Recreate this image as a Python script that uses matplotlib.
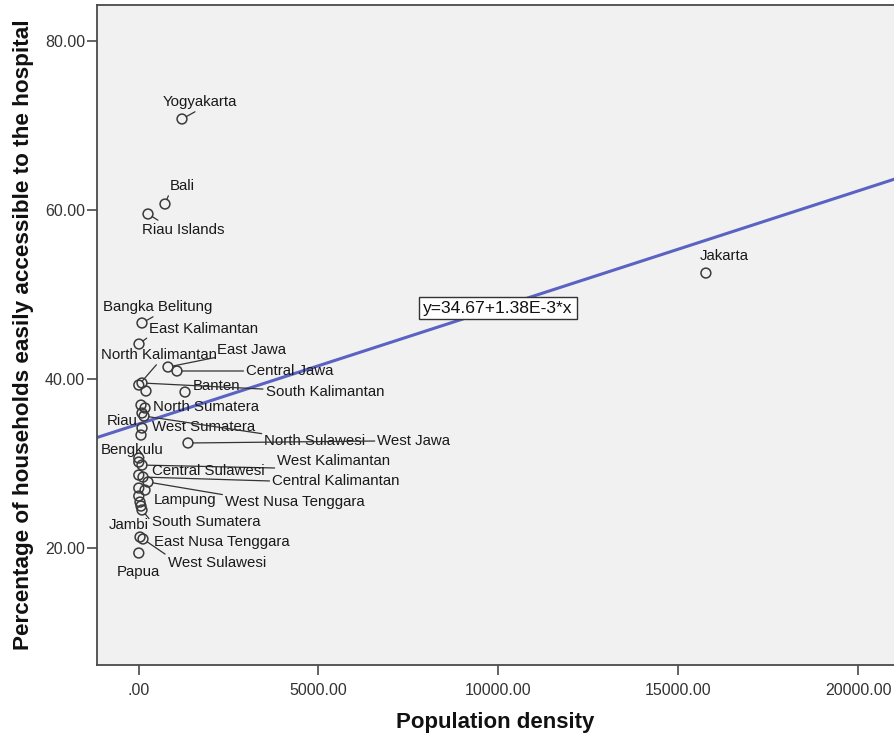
import numpy as np
import matplotlib
matplotlib.use("Agg")
import matplotlib.pyplot as plt

# ---------------- data ----------------
provinces = ["Yogyakarta", "Bali", "Riau Islands", "Jakarta", "Bangka Belitung",
             "East Kalimantan", "North Kalimantan", "East Jawa", "Central Jawa", "Banten",
             "South Kalimantan", "North Sumatera", "Riau", "West Sumatera", "North Sulawesi",
             "West Jawa", "Bengkulu", "West Kalimantan", "Central Sulawesi", "Central Kalimantan",
             "Lampung", "West Nusa Tenggara", "Jambi", "South Sumatera", "East Nusa Tenggara",
             "West Sulawesi", "Papua",
             "Aceh", "South Sulawesi", "Maluku", "Gorontalo", "North Maluku", "West Papua",
             "Southeast Sulawesi"]
density = [1208, 736, 264, 15764, 97,
           14, 8, 819, 1069, 1292,
           97, 181, 97, 97, 153,
           1375, 69, 97, 8, 125,
           181, 264, 69, 97, 42,
           125, 8,
           69, 208, 8, 8, 8, 8,
           42]
access = [70.77, 60.71, 59.53, 52.54, 46.63,
          44.14, 39.29, 41.42, 40.95, 38.46,
          39.53, 36.57, 35.98, 34.20, 35.62,
          32.43, 33.37, 29.82, 30.18, 28.40,
          26.86, 27.81, 24.97, 24.50, 21.30,
          21.07, 19.41,
          36.92, 38.58, 30.65, 28.64, 27.10, 26.15,
          25.44]
n_labeled = 27
intercept = 34.67
slope = 1.38e-3
xticks = [0, 5000, 10000, 15000, 20000]
yticks = [20, 40, 60, 80]

# ------------- label layout (pixel offsets from point, leader anchor) -------------
label_layout = {
    "Yogyakarta": (18, 17, (0.5, 0)),
    "Bali": (17, 18, (0, 0)),
    "Riau Islands": (35, -16, (0.25, 1)),
    "Jakarta": (18, 17, None),
    "Bangka Belitung": (16, 16, (0.5, 0)),
    "East Kalimantan": (65, 15, (0, 0)),
    "North Kalimantan": (20, 30, (0.5, 0)),
    "East Jawa": (84, 17, (0, 0)),
    "Central Jawa": (113, 0, (0, 0.5)),
    "Banten": (32, 6, None),
    "South Kalimantan": (183, -9, (0, 0.7)),
    "North Sumatera": (61, 1, None),
    "Riau": (-20, -8, None),
    "West Sumatera": (62, 1, None),
    "North Sulawesi": (171, -25, (0, 1)),
    "West Jawa": (226, 2, (0, 0.5)),
    "Bengkulu": (-9, -15, None),
    "West Kalimantan": (192, 4, (0, 0)),
    "Central Sulawesi": (70, -9, None),
    "Central Kalimantan": (193, -4, (0, 0.5)),
    "Lampung": (40, -10, None),
    "West Nusa Tenggara": (147, -20, (0, 1)),
    "Jambi": (-12, -19, None),
    "South Sumatera": (64, -12, (0, 0.5)),
    "East Nusa Tenggara": (82, -5, None),
    "West Sulawesi": (74, -24, (0, 1)),
    "Papua": (0, -19, None),
}

# ---------------- figure ----------------
W, H = 894, 739
fig = plt.figure(figsize=(W / 100, H / 100), dpi=100)
fig.patch.set_facecolor("white")
ax = fig.add_axes([97 / W, 1 - 665 / H, (894 - 97) / W, (665 - 5) / H])
ax.set_facecolor("#F0F1F0")

ax.set_xlim(-1153, 20990)
ax.set_ylim(6.16, 84.26)

frame_c = "#4a4a4a"
for side in ["left", "bottom", "top"]:
    ax.spines[side].set_color(frame_c)
    ax.spines[side].set_linewidth(1.3)
ax.spines["right"].set_visible(False)

# regression line
xl = np.array(ax.get_xlim())
ax.plot(xl, intercept + slope * xl, color="#5A62C2", lw=2.2, zorder=2)

# points
ax.scatter(density, access, s=50, facecolors="none", edgecolors="#3a3a3a",
           linewidths=1.1, zorder=3)

fam = ["Liberation Sans", "DejaVu Sans"]
lab_font = dict(family=fam, size=10.8, color="#1a1a1a")
for name, xv, yv in zip(provinces[:n_labeled], density[:n_labeled], access[:n_labeled]):
    dx, dy, rel = label_layout[name]
    kw = {}
    if rel is not None:
        kw["arrowprops"] = dict(arrowstyle="-", color="#333333", lw=0.9,
                                shrinkA=0, shrinkB=3.5, relpos=rel)
    ax.annotate(name, xy=(xv, yv), xytext=(dx, dy), textcoords="offset pixels",
                ha="center", va="center", zorder=4, **lab_font, **kw)

# equation box
ax.text(9987, 48.40, f"y={intercept:.2f}+{slope*1000:.2f}E-3*x", ha="center", va="center",
        family=fam, size=12.6, color="#111111", zorder=5,
        bbox=dict(boxstyle="square,pad=0.22", fc="white", ec="#333333", lw=1.0))

# ticks
ax.set_xticks(xticks)
ax.set_xticklabels([".00" if t == 0 else f"{t:.2f}" for t in xticks])
ax.set_yticks(yticks)
ax.set_yticklabels([f"{t:.2f}" for t in yticks])
ax.tick_params(axis="both", direction="out", length=7.2, width=1.2, color=frame_c,
               labelsize=11.5, labelcolor="#333333")
for lbl in ax.get_xticklabels() + ax.get_yticklabels():
    lbl.set_family(fam)
ax.tick_params(axis="x", pad=6)
ax.tick_params(axis="y", pad=1.5)

ax.set_xlabel("Population density", family=fam,
              weight="bold", size=16, color="#111111", labelpad=10)
ax.set_ylabel("Percentage of households easily accessible to the hospital",
              family=fam, weight="bold", size=16.2, color="#111111", labelpad=8)

fig.savefig("out.png", dpi=100)
